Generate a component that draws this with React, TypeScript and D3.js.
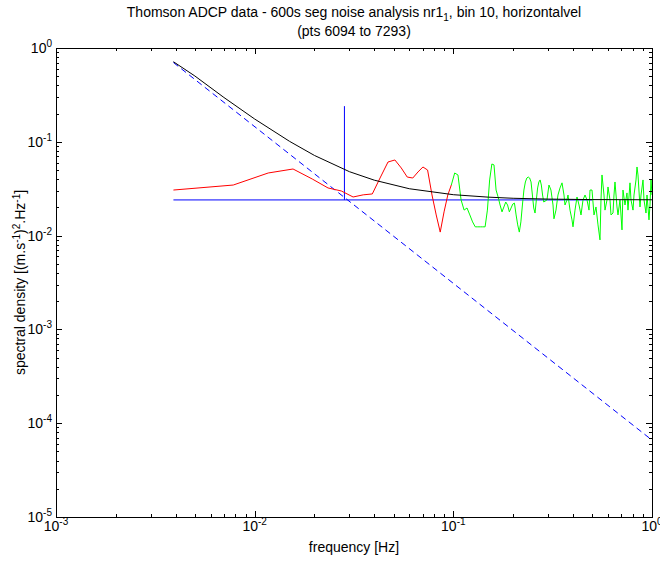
import React, { useEffect, useRef } from 'react';
import * as d3 from 'd3';

// spectrum, low-frequency part (red)
const redFreq = [0.0039, 0.0078, 0.0117, 0.0156, 0.0195, 0.0234, 0.0273, 0.0313, 0.0352, 0.0391, 0.043, 0.0469, 0.0508, 0.0547, 0.0586, 0.0625, 0.0664, 0.0703, 0.0742, 0.0781, 0.082, 0.0859, 0.0898, 0.0938, 0.0977];
const redPsd = [0.0306, 0.0346, 0.0465, 0.0513, 0.0401, 0.0322, 0.0299, 0.0258, 0.0272, 0.0278, 0.0421, 0.0609, 0.064, 0.0526, 0.0421, 0.0411, 0.0477, 0.0539, 0.05, 0.0271, 0.0166, 0.0109, 0.0179, 0.0271, 0.0346];

// spectrum, high-frequency part (green)
const greenFreq = [0.0977, 0.1016, 0.1055, 0.1094, 0.1133, 0.1172, 0.1211, 0.125, 0.1289, 0.1328, 0.1367, 0.1406, 0.1445, 0.1484, 0.1523, 0.1563, 0.1602, 0.1641, 0.168, 0.1719, 0.1758, 0.1797, 0.1836, 0.1875, 0.1914, 0.1953, 0.1992, 0.2031, 0.207, 0.2109, 0.2148, 0.2188, 0.2227, 0.2266, 0.2305, 0.2344, 0.2383, 0.2422, 0.2461, 0.25, 0.2539, 0.2578, 0.2617, 0.2656, 0.2695, 0.2734, 0.2773, 0.2813, 0.2852,
  0.296, 0.303, 0.31, 0.3175, 0.321, 0.3286, 0.3363, 0.3443, 0.3524, 0.3606, 0.3648, 0.3734, 0.3777, 0.3866, 0.3957, 0.4003, 0.4097, 0.4193, 0.4292, 0.4392, 0.4495, 0.4601, 0.4708, 0.4819, 0.4875, 0.4989, 0.5106, 0.5225, 0.5348, 0.5473, 0.5537, 0.5601, 0.5733, 0.58, 0.5936, 0.6005, 0.6145, 0.6217, 0.6363, 0.6437, 0.6512, 0.6665, 0.6743, 0.69, 0.7063, 0.7145, 0.7312, 0.7483, 0.7571, 0.7749, 0.7839, 0.8024, 0.8117, 0.8308, 0.8405, 0.8502, 0.8701, 0.8805, 0.901, 0.9115, 0.9328, 0.9437, 0.9658, 0.977, 0.9885, 1.0];
const greenPsd = [0.0346, 0.0465, 0.0443, 0.024, 0.0187, 0.0197, 0.0166, 0.014, 0.0124, 0.0124, 0.0124, 0.0124, 0.0124, 0.0187, 0.0392, 0.058, 0.0567, 0.0306, 0.0258, 0.0212, 0.0179, 0.0202, 0.0228, 0.0212, 0.0179, 0.0197, 0.0217, 0.0222, 0.0166, 0.013, 0.0109, 0.014, 0.0212, 0.0306, 0.0373, 0.0411, 0.0421, 0.0411, 0.0373, 0.0271, 0.0197, 0.0174, 0.024, 0.0322, 0.0373, 0.0392, 0.0346, 0.0271, 0.0228,
  0.024, 0.0346, 0.0306, 0.0212, 0.0151, 0.0187, 0.0271, 0.0322, 0.0365, 0.0271, 0.0212, 0.024, 0.0271, 0.0187, 0.0147, 0.0124, 0.0187, 0.0258, 0.0212, 0.0166, 0.024, 0.0271, 0.024, 0.0187, 0.0306, 0.0306, 0.0166, 0.0202, 0.013, 0.009, 0.024, 0.0443, 0.0271, 0.0187, 0.024, 0.033, 0.024, 0.0166, 0.0174, 0.0271, 0.0373, 0.0202, 0.0166, 0.024, 0.0115, 0.0306, 0.0212, 0.0285, 0.0187, 0.0365, 0.024, 0.0187, 0.0271, 0.0392, 0.0539, 0.0443, 0.0202, 0.0271, 0.0392, 0.024, 0.0174, 0.0271, 0.0147, 0.0212, 0.0392, 0.0271];

// noise model: -5/3 slope plus white floor (black)
const modelFreq = [0.0039, 0.005, 0.007, 0.01, 0.015, 0.02, 0.03, 0.04, 0.06, 0.1, 0.15, 0.2, 0.3, 0.5, 1];
const modelPsd = [0.714, 0.503, 0.297, 0.175, 0.101, 0.0715, 0.048, 0.039, 0.0316, 0.0273, 0.0257, 0.025, 0.0245, 0.0242, 0.0241];

// -5/3 reference line (dashed blue)
const slopeFreq = [0.0039, 1];
const slopePsd = [0.7, 6.6e-5];

// white noise floor (blue)
const floorFreq = [0.0039, 0.5];
const floorPsd = [0.024, 0.024];

// cut-off marker
const cutoffFreq = 0.0283;
const cutoffPsd = [0.024, 0.24];

const xMajor = [1e-3, 1e-2, 1e-1, 1];
const xExp = ['-3', '-2', '-1', '0'];
const yMajor = [1, 1e-1, 1e-2, 1e-3, 1e-4, 1e-5];
const yExp = ['0', '-1', '-2', '-3', '-4', '-5'];

const FONT = 'Liberation Sans, Arial, sans-serif';

const App = () => {
  const ref = useRef<SVGSVGElement>(null);

  useEffect(() => {
    if (!ref.current) return;
    const svg = d3.select(ref.current);
    svg.selectAll('*').remove();

    const left = 56, top = 48, right = 652, bottom = 517;

    const x = d3.scaleLog().domain([1e-3, 1]).range([left, right]);
    const y = d3.scaleLog().domain([1e-5, 1]).range([bottom, top]);

    const plot = svg.append('g');

    const clip = svg.append('clipPath').attr('id', 'plotclip');
    clip.append('rect').attr('x', left).attr('y', top).attr('width', right - left).attr('height', bottom - top);

    const lines = plot.append('g').attr('clip-path', 'url(#plotclip)');

    const line = d3.line<[number, number]>()
      .x(d => x(d[0]))
      .y(d => y(d[1]));

    const zip = (f: number[], p: number[]) => f.map((v, i) => [v, p[i]] as [number, number]);

    lines.append('path')
      .attr('d', line(zip(slopeFreq, slopePsd)))
      .attr('fill', 'none')
      .attr('stroke', '#0000ff')
      .attr('stroke-dasharray', '6,4');

    lines.append('path')
      .attr('d', line(zip(floorFreq, floorPsd)))
      .attr('fill', 'none')
      .attr('stroke', '#0000ff');

    lines.append('path')
      .attr('d', line(cutoffPsd.map(p => [cutoffFreq, p] as [number, number])))
      .attr('fill', 'none')
      .attr('stroke', '#0000ff');

    lines.append('path')
      .attr('d', line(zip(greenFreq, greenPsd)))
      .attr('fill', 'none')
      .attr('stroke', '#00ff00');

    lines.append('path')
      .attr('d', line(zip(redFreq, redPsd)))
      .attr('fill', 'none')
      .attr('stroke', '#ff0000');

    lines.append('path')
      .attr('d', line(zip(modelFreq, modelPsd)))
      .attr('fill', 'none')
      .attr('stroke', '#000000');

    // box
    plot.append('rect')
      .attr('x', left + 0.5).attr('y', top + 0.5)
      .attr('width', right - left).attr('height', bottom - top)
      .attr('fill', 'none').attr('stroke', '#000');

    // ticks on all four sides, pointing inwards
    const xMinor = x.ticks().filter(t => !xMajor.some(m => Math.abs(m - t) / m < 1e-6));
    const yMinor = y.ticks().filter(t => !yMajor.some(m => Math.abs(m - t) / m < 1e-6));
    const ticks = plot.append('g').attr('stroke', '#000');
    const xt = (vals: number[], len: number) => vals.forEach(v => {
      const px = Math.round(x(v)) + 0.5;
      ticks.append('line').attr('x1', px).attr('x2', px).attr('y1', bottom).attr('y2', bottom - len);
      ticks.append('line').attr('x1', px).attr('x2', px).attr('y1', top).attr('y2', top + len);
    });
    const yt = (vals: number[], len: number) => vals.forEach(v => {
      const py = Math.round(y(v)) + 0.5;
      ticks.append('line').attr('y1', py).attr('y2', py).attr('x1', left).attr('x2', left + len);
      ticks.append('line').attr('y1', py).attr('y2', py).attr('x1', right).attr('x2', right - len);
    });
    xt(xMajor, 6); xt(xMinor, 3);
    yt(yMajor, 6); yt(yMinor, 3);

    // tick labels
    const labels = svg.append('g').attr('font-family', FONT).attr('font-size', 14).attr('fill', '#000');
    xMajor.forEach((v, i) => {
      const t = labels.append('text').attr('x', x(v)).attr('y', 531).attr('text-anchor', 'middle');
      t.append('tspan').text('10');
      t.append('tspan').attr('dy', -6).attr('font-size', 10).text(xExp[i]);
    });
    yMajor.forEach((v, i) => {
      const t = labels.append('text').attr('x', 52).attr('y', y(v) + 5).attr('text-anchor', 'end');
      t.append('tspan').text('10');
      t.append('tspan').attr('dy', -6).attr('font-size', 10).text(yExp[i]);
    });

    // title
    const title = svg.append('g').attr('font-family', FONT).attr('font-size', 14).attr('text-anchor', 'middle');
    const t1 = title.append('text').attr('x', (left + right) / 2).attr('y', 17);
    t1.append('tspan').text('Thomson ADCP data - 600s seg noise analysis nr1');
    t1.append('tspan').attr('dy', 4).attr('font-size', 10).text('1');
    t1.append('tspan').attr('dy', -4).text(', bin 10, horizontalvel');
    title.append('text').attr('x', (left + right) / 2).attr('y', 36).text('(pts 6094 to 7293)');

    // axis labels
    svg.append('text')
      .attr('x', (left + right) / 2).attr('y', 552)
      .attr('text-anchor', 'middle')
      .attr('font-family', FONT).attr('font-size', 14)
      .text('frequency [Hz]');

    const yl = svg.append('text')
      .attr('transform', `translate(25, ${(top + bottom) / 2}) rotate(-90)`)
      .attr('text-anchor', 'middle')
      .attr('font-family', FONT).attr('font-size', 14);
    yl.append('tspan').text('spectral density [(m.s');
    yl.append('tspan').attr('dy', -5).attr('font-size', 10).text('-1');
    yl.append('tspan').attr('dy', 5).text(')');
    yl.append('tspan').attr('dy', -5).attr('font-size', 10).text('2');
    yl.append('tspan').attr('dy', 5).text('.Hz');
    yl.append('tspan').attr('dy', -5).attr('font-size', 10).text('-1');
    yl.append('tspan').attr('dy', 5).text(']');
  }, []);

  return (
    <svg ref={ref} width={660} height={561} style={{ display: 'block', position: 'absolute', left: 0, top: 0, background: '#fff' }} />
  );
};

export default App;
